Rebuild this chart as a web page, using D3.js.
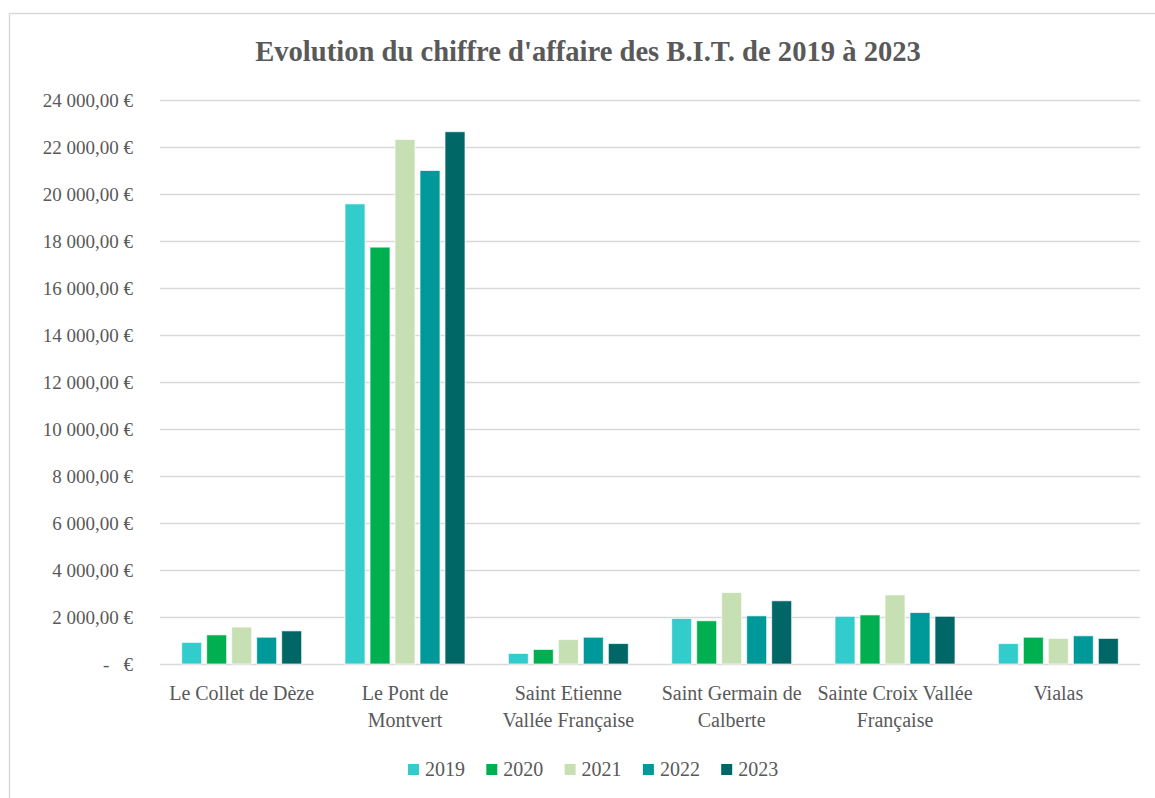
<!DOCTYPE html>
<html>
<head>
  <meta charset="utf-8">
  <title>Evolution du chiffre d'affaire des B.I.T.</title>
  <style>
  * { margin: 0; padding: 0; }
  body { background: #fff; }
  svg text { font-family: "Liberation Serif", serif; fill: #595959; }
  .grid line { stroke: #d9d9d9; stroke-width: 1.5px; }
  .bar { stroke: #fff; stroke-opacity: 0.7; stroke-width: 1px; }
  </style>
</head>
<body>
<script src="https://cdn.jsdelivr.net/npm/d3@7"></script>
<script>
// données
var categories = [
  ["Le Collet de Dèze"],
  ["Le Pont de", "Montvert"],
  ["Saint Etienne", "Vallée Française"],
  ["Saint Germain de", "Calberte"],
  ["Sainte Croix Vallée", "Française"],
  ["Vialas"]
];
var years = ["2019", "2020", "2021", "2022", "2023"];
var values2019 = [920, 19580, 450, 1940, 2030, 870];
var values2020 = [1240, 17740, 620, 1840, 2090, 1140];
var values2021 = [1570, 22320, 1040, 3040, 2940, 1090];
var values2022 = [1140, 21000, 1140, 2050, 2190, 1200];
var values2023 = [1410, 22650, 870, 2690, 2030, 1090];
var yTicks = [0, 2000, 4000, 6000, 8000, 10000, 12000, 14000, 16000, 18000, 20000, 22000, 24000];
var colors = ["#33cccc", "#00b050", "#c6e0b4", "#009999", "#006666"];

var series = [values2019, values2020, values2021, values2022, values2023];
var FONT = "'Liberation Serif', serif";

var W = 1155, H = 798;
var svg = d3.select("body").append("svg")
  .attr("width", W).attr("height", H)
  .attr("viewBox", `0 0 ${W} ${H}`);

// cadre du graphique
svg.append("rect")
  .attr("x", 9.5).attr("y", 13.5)
  .attr("width", W + 20).attr("height", H + 20)
  .attr("fill", "#fff")
  .attr("stroke", "#d9d9d9").attr("stroke-width", 1.5);

svg.append("text")
  .attr("x", 588).attr("y", 61)
  .attr("text-anchor", "middle")
  .style("font-size", "28.6px").style("font-weight", "bold")
  .text("Evolution du chiffre d'affaire des B.I.T. de 2019 à 2023");

var catIdx = d3.range(categories.length);
var x0 = d3.scaleBand().domain(catIdx).range([160, 1140]);
var x1 = d3.scaleBand().domain(years)
  .range([x0.bandwidth() / 2 - 60, x0.bandwidth() / 2 + 60])
  .paddingInner(0.2);
var y = d3.scaleLinear().domain([0, 24000]).range([664, 100]);

var loc = d3.formatLocale({decimal: ",", thousands: " ", grouping: [3], currency: ["", " €"]});
var fmt = loc.format(",.2f");
function yLabel(v) { return v === 0 ? "-\u00a0\u00a0\u00a0€" : fmt(v) + " €"; }

// grille
var grid = svg.append("g").attr("class", "grid");
grid.selectAll("line").data(yTicks).enter().append("line")
  .attr("x1", 160).attr("x2", 1140)
  .attr("y1", d => Math.round(y(d)) + 0.5)
  .attr("y2", d => Math.round(y(d)) + 0.5);

// axe Y
var yAxis = svg.append("g")
  .attr("transform", "translate(160,0)")
  .call(d3.axisLeft(y).tickValues(yTicks).tickFormat(yLabel).tickSize(0).tickPadding(27));
yAxis.attr("font-family", FONT).attr("font-size", 19);
yAxis.select(".domain").remove();
yAxis.selectAll("text")
  .attr("fill", "#595959")
  .attr("dy", "0.35em");

// barres
var groups = svg.append("g").selectAll("g")
  .data(catIdx).enter().append("g")
  .attr("transform", i => "translate(" + x0(i) + ",0)");

groups.selectAll("rect")
  .data(i => years.map((yr, k) => ({year: yr, k: k, v: series[k][i]})))
  .enter().append("rect")
  .attr("class", "bar")
  .attr("x", d => x1(d.year))
  .attr("width", x1.bandwidth())
  .attr("y", d => y(d.v))
  .attr("height", d => y(0) - y(d.v))
  .attr("fill", d => colors[d.k]);

// libellés X
var lab = svg.append("g").selectAll("text")
  .data(catIdx).enter().append("text")
  .attr("text-anchor", "middle")
  .attr("x", i => x0(i) + x0.bandwidth() / 2)
  .attr("y", 700)
  .style("font-size", "20px");
lab.selectAll("tspan")
  .data(i => categories[i])
  .enter().append("tspan")
  .attr("x", function () { return d3.select(this.parentNode).attr("x"); })
  .attr("dy", (d, j) => j === 0 ? 0 : 27)
  .text(d => d);

// légende
var leg = svg.append("g").selectAll("g")
  .data(years).enter().append("g")
  .attr("transform", (d, k) => "translate(" + (408 + k * 78.3) + ",764)");
leg.append("rect")
  .attr("width", 11).attr("height", 11)
  .attr("fill", (d, k) => colors[k]);
leg.append("text")
  .attr("x", 17).attr("y", 12)
  .style("font-size", "20px")
  .text(d => d);
</script>
</body>
</html>
